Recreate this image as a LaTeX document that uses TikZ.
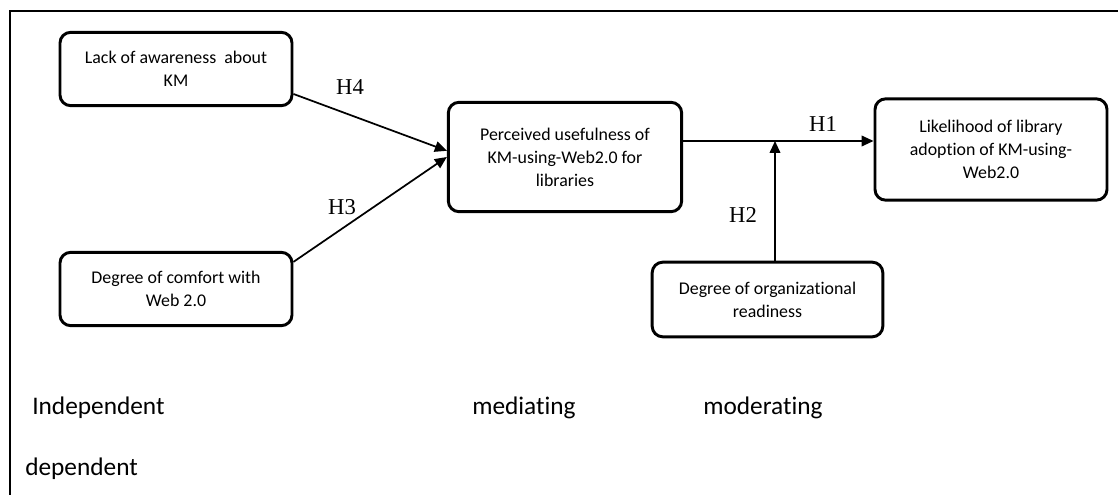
\documentclass[tikz,border=0pt]{standalone}
\usepackage{fontspec}
\usetikzlibrary{arrows.meta}
\newfontfamily\boxfont[Ligatures=NoCommon]{Carlito}
\newfontfamily\hypfont{Liberation Serif}

\begin{document}
\begin{tikzpicture}[x=0.75pt,y=-0.75pt,
	varbox/.style={draw, line width=2.2pt, rounded corners=8pt, align=center,
		inner sep=0pt, font=\boxfont\fontsize{13.4}{17.3}\selectfont},
	hyp/.style={font=\hypfont\fontsize{17}{20}\selectfont},
	kind/.style={anchor=base west, inner sep=0pt, font=\boxfont\fontsize{19}{22}\selectfont},
	link/.style={line width=1.3pt, -{Triangle[length=9pt,width=8pt]}}]

		\useasboundingbox (0,0) rectangle (1118,495);

		% Frame, top and left edges only
		\draw[line width=1.6pt] (1118,11) -- (10,11) -- (10,495);

		% Variable boxes
		\node[varbox, minimum width=174pt, minimum height=55pt] (aware) at (176,69)
			{Lack of awareness\ \ about\\KM};
		\node[varbox, minimum width=174pt, minimum height=55pt] (comfort) at (176,289)
			{Degree of comfort with\\Web 2.0};
		\node[varbox, minimum width=175pt, minimum height=82pt] (useful) at (565,157)
			{Perceived usefulness of\\KM-using-Web2.0 for\\libraries};
		\node[varbox, minimum width=174pt, minimum height=76pt] (likely) at (991,149.5)
			{Likelihood of library\\adoption of KM-using-\\Web2.0};
		\node[varbox, minimum width=173pt, minimum height=56pt] (ready) at (767.5,299.5)
			{Degree of organizational\\readiness};

		% Junction of the moderating arrow
		\coordinate (junc) at (775,141);

		% Hypothesis arrows
		\draw[link] (aware.-12.6) -- (useful.177);
		\draw[link] (comfort.13) -- (useful.180);
		\draw[link] (useful.east |- junc) -- (likely.west |- junc);
		\draw[link] (ready.north -| junc) -- (junc);

		% Hypothesis labels
		\node[hyp] (h4) at (350,87) {H4};
		\node[hyp] (h3) at (342,207) {H3};
		\node[hyp] (h1) at (823,124) {H1};
		\node[hyp] (h2) at (743,215) {H2};

		% Variable kinds
		\node[kind] (indep) at (32,415) {Independent};
		\node[kind] (dep) at (25,475) {dependent};
		\node[kind] (med) at (472,415) {mediating};
		\node[kind] (mod) at (703,415) {moderating};
	\end{tikzpicture}
\end{document}
